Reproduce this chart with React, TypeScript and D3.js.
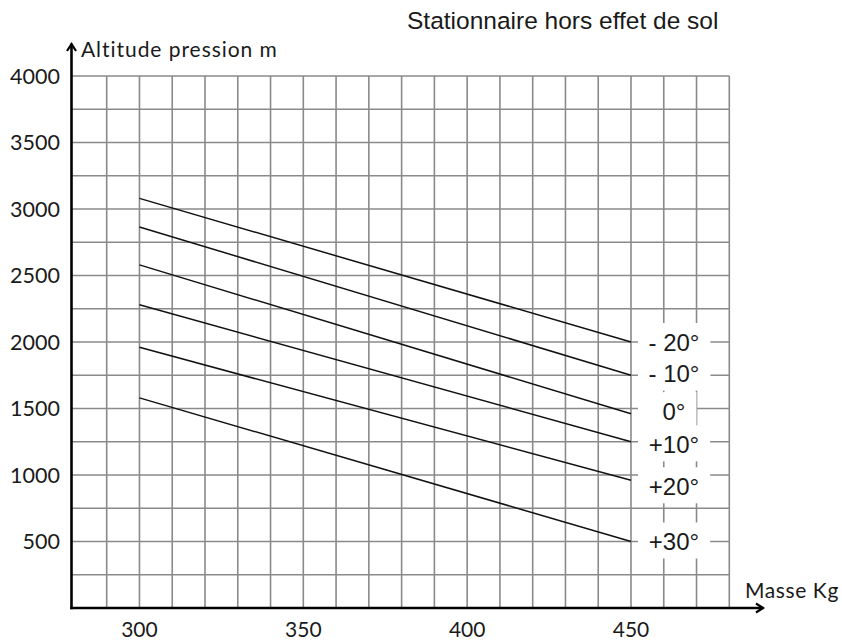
import React from "react";
import * as d3 from "d3";

// ---- data ----
const massTicks = [300, 350, 400, 450];
const altitudeTicks = [500, 1000, 1500, 2000, 2500, 3000, 3500, 4000];
const tempLabels = ["- 20°", "- 10°", "0°", "+10°", "+20°", "+30°"];
const lineMass = [300, 450];
const altAtStart = [3080, 2865, 2580, 2280, 1960, 1580];
const altAtEnd = [2000, 1750, 1460, 1250, 960, 500];
const labelAlt = [2000, 1762, 1480, 1230, 915, 500];
const gridMassMin = 290;
const gridMassMax = 480;
const gridMassStep = 10;
const gridAltStep = 250;
const altMax = 4000;
const title = "Stationnaire hors effet de sol";
const yTitle = "Altitude pression m";
const xTitle = "Masse Kg";

// ---- layout ----
const W = 842;
const H = 640;
const originX = 71.5;
const originY = 608;
const gridLeft = 106.7;
const gridRight = 729.3;
const gridTop = 76;

const calibriLike = "Lato, 'Open Sans', sans-serif";
const arialLike = "'Liberation Sans', Arial, sans-serif";

function measure(text: string, font: string): number {
  if (typeof document === "undefined") return text.length * 12;
  const c = document.createElement("canvas");
  const ctx = c.getContext("2d");
  if (!ctx) return text.length * 12;
  ctx.font = font;
  return ctx.measureText(text).width;
}

export default function App() {
  const x = d3.scaleLinear().domain([gridMassMin, gridMassMax]).range([gridLeft, gridRight]);
  const y = d3.scaleLinear().domain([0, altMax]).range([originY, gridTop]);

  const gridMass = d3.range(gridMassMin, gridMassMax + 1, gridMassStep);
  const gridAlt = d3.range(gridAltStep, altMax + 1, gridAltStep);

  const line = d3
    .line<[number, number]>()
    .x((d) => x(d[0]))
    .y((d) => y(d[1]));

  const labelCx = x(lineMass[1]) + 43;
  const boxLeft = x(lineMass[1]) + 7;
  const tempFontSize = 24;

  return (
    <svg
      width={W}
      height={H}
      style={{ position: "absolute", left: 0, top: 0, display: "block", background: "#fff" }}
    >
      <rect x={0} y={0} width={W} height={H} fill="#fff" />
      {/* grid */}
      <g stroke="#8a8a8a" strokeWidth={1.6}>
        {gridMass.map((m) => (
          <line key={"v" + m} x1={x(m)} x2={x(m)} y1={gridTop} y2={originY} />
        ))}
        {gridAlt.map((a) => (
          <line key={"h" + a} x1={originX} x2={gridRight} y1={y(a)} y2={y(a)} />
        ))}
      </g>

      {/* temperature lines */}
      <g fill="none" stroke="#111" strokeWidth={1.5}>
        {tempLabels.map((t, i) => (
          <path
            key={t}
            d={
              line([
                [lineMass[0], altAtStart[i]],
                [lineMass[1], altAtEnd[i]],
              ]) || ""
            }
          />
        ))}
      </g>

      {/* temperature labels with white boxes */}
      {tempLabels.map((t, i) => {
        const cy = y(labelAlt[i]);
        const w = measure(t, `${tempFontSize}px 'Liberation Sans'`);
        const right = labelCx + w / 2 + 11;
        return (
          <g key={"lab" + t}>
            <rect x={boxLeft} y={cy - 19} width={right - boxLeft} height={36} fill="#fff" />
            <text
              x={labelCx}
              y={cy}
              dy="0.36em"
              textAnchor="middle"
              fontFamily={arialLike}
              fontSize={tempFontSize}
              fill="#1a1a1a"
            >
              {t}
            </text>
          </g>
        );
      })}

      {/* axes */}
      <g stroke="#000" strokeWidth={2.6} fill="none" strokeLinecap="square">
        <line x1={originX} y1={originY} x2={originX} y2={45} />
        <line x1={originX} y1={originY} x2={762} y2={originY} />
      </g>
      <g stroke="#000" strokeWidth={2.2} fill="none" strokeLinejoin="miter">
        <polyline points={`${originX - 4.5},${51} ${originX},${44} ${originX + 4.5},${51}`} />
        <polyline points={`${756},${originY - 4.5} ${763},${originY} ${756},${originY + 4.5}`} />
      </g>

      {/* y tick labels */}
      {altitudeTicks.map((a) => (
        <text
          key={"yt" + a}
          x={60}
          y={y(a)}
          dy="0.36em"
          textAnchor="end"
          fontFamily={calibriLike}
          fontSize={21.5}
          fill="#1a1a1a"
        >
          {a}
        </text>
      ))}

      {/* x tick labels */}
      {massTicks.map((m) => (
        <text
          key={"xt" + m}
          x={x(m)}
          y={629.5}
          dy="0.36em"
          textAnchor="middle"
          fontFamily={calibriLike}
          fontSize={21}
          fill="#1a1a1a"
        >
          {m}
        </text>
      ))}

      {/* axis titles */}
      <text x={81} y={57} fontFamily={calibriLike} fontSize={21} letterSpacing={0.95} fill="#1a1a1a">
        {yTitle}
      </text>
      <text x={745} y={598} fontFamily={calibriLike} fontSize={21} letterSpacing={0.6} fill="#1a1a1a">
        {xTitle}
      </text>

      {/* title */}
      <text x={407} y={29} fontFamily={arialLike} fontSize={24.5} fill="#1a1a1a">
        {title}
      </text>
    </svg>
  );
}
